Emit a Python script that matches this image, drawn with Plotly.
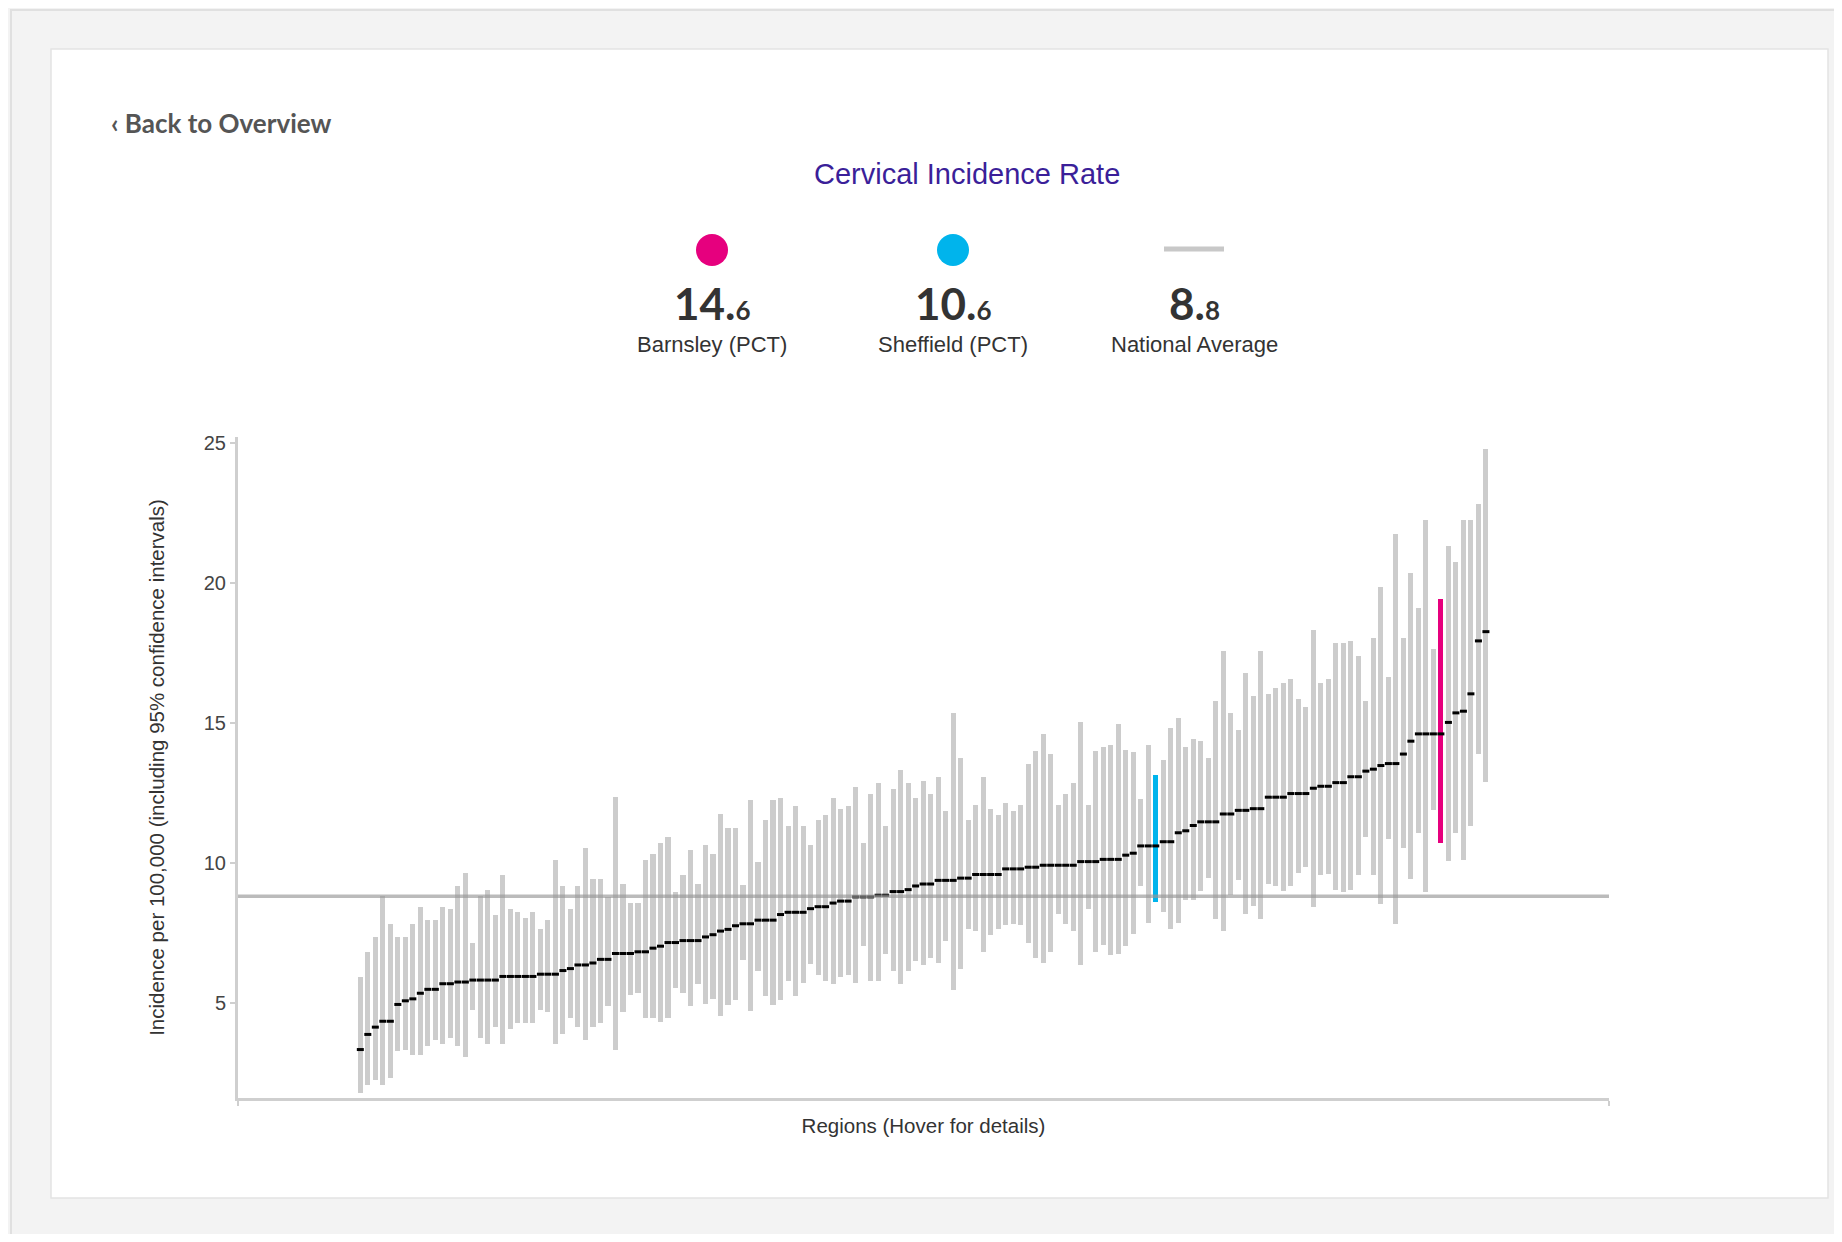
import plotly.graph_objects as go

# Cervical incidence per 100,000 by PCT, sorted, with 95% confidence intervals
rate = [
    3.33, 3.87, 4.13, 4.34, 4.34, 4.94, 5.07, 5.14, 5.34, 5.48,
    5.48, 5.68, 5.68, 5.74, 5.74, 5.81, 5.81, 5.81, 5.81, 5.94,
    5.94, 5.94, 5.94, 5.94, 6.02, 6.02, 6.02, 6.15, 6.22, 6.35,
    6.35, 6.42, 6.55, 6.55, 6.76, 6.76, 6.76, 6.82, 6.82, 6.95,
    7.02, 7.15, 7.15, 7.22, 7.22, 7.22, 7.35, 7.43, 7.56, 7.62,
    7.75, 7.82, 7.82, 7.95, 7.95, 7.95, 8.15, 8.23, 8.23, 8.23,
    8.36, 8.43, 8.43, 8.56, 8.63, 8.63, 8.78, 8.78, 8.78, 8.84,
    8.84, 8.97, 8.97, 9.04, 9.17, 9.24, 9.24, 9.37, 9.37, 9.37,
    9.45, 9.45, 9.58, 9.58, 9.58, 9.58, 9.78, 9.78, 9.78, 9.84,
    9.84, 9.91, 9.91, 9.91, 9.91, 9.91, 10.04, 10.04, 10.04, 10.12,
    10.12, 10.12, 10.27, 10.34, 10.6, 10.6, 10.6, 10.75, 10.75, 11.07,
    11.14, 11.33, 11.46, 11.46, 11.46, 11.74, 11.74, 11.87, 11.87, 11.93,
    11.93, 12.34, 12.34, 12.34, 12.47, 12.47, 12.47, 12.66, 12.73, 12.73,
    12.86, 12.86, 13.07, 13.07, 13.27, 13.34, 13.47, 13.54, 13.54, 13.88,
    14.34, 14.6, 14.6, 14.6, 14.6, 15.01, 15.35, 15.41, 16.03, 17.92,
    18.25,
]
lower = [
    1.77, 2.05, 2.25, 2.05, 2.32, 3.27, 3.33, 3.13, 3.13, 3.46,
    3.66, 3.53, 3.73, 3.46, 3.07, 4.74, 3.73, 3.53, 4.14, 3.53,
    4.07, 4.27, 4.27, 4.27, 4.74, 4.67, 3.53, 3.87, 4.46, 4.14,
    3.66, 4.14, 4.27, 4.87, 3.33, 4.67, 5.28, 5.34, 4.46, 4.46,
    4.33, 4.46, 5.54, 5.34, 4.87, 5.68, 4.94, 5.14, 4.53, 4.91,
    5.11, 6.53, 4.71, 6.12, 5.24, 4.91, 5.11, 5.79, 5.24, 5.72,
    6.4, 5.99, 5.79, 5.66, 5.92, 5.99, 5.72, 7.01, 5.79, 5.79,
    6.73, 6.12, 5.66, 6.12, 6.5, 6.34, 6.61, 6.41, 7.22, 5.47,
    6.21, 7.63, 7.56, 6.82, 7.43, 7.63, 7.76, 7.82, 7.76, 7.15,
    6.61, 6.41, 6.82, 8.17, 7.82, 7.56, 6.34, 8.36, 6.82, 7.05,
    6.7, 6.75, 7.03, 7.44, 9.18, 7.84, 8.6, 8.25, 7.64, 7.84,
    8.66, 8.66, 8.98, 9.46, 7.99, 7.57, 8.84, 9.4, 8.18, 8.44,
    7.99, 9.25, 9.18, 8.98, 9.18, 9.63, 9.85, 8.42, 9.55, 9.61,
    9.02, 8.96, 9.02, 9.55, 10.93, 9.55, 8.54, 10.84, 7.82, 10.51,
    9.43, 11.05, 8.96, 11.88, 10.71, 10.05, 11.05, 10.11, 11.32, 13.89,
    12.87,
]
upper = [
    5.93, 6.8, 7.34, 8.82, 7.82, 7.34, 7.34, 7.82, 8.42, 7.95,
    7.95, 8.42, 8.36, 9.16, 9.64, 7.15, 8.82, 9.04, 8.15, 9.56,
    8.36, 8.23, 8.02, 8.23, 7.63, 7.95, 10.11, 9.16, 8.36, 9.16,
    10.51, 9.43, 9.43, 8.76, 12.34, 9.23, 8.56, 8.56, 10.11, 10.31,
    10.71, 10.91, 8.97, 9.56, 10.45, 9.23, 10.65, 10.31, 11.73, 11.24,
    11.23, 9.22, 12.24, 10.03, 11.52, 12.24, 12.31, 11.3, 12.04, 11.3,
    10.63, 11.52, 11.7, 12.31, 11.91, 12.04, 12.72, 10.7, 12.44, 12.85,
    11.3, 12.65, 13.32, 12.85, 12.32, 12.92, 12.46, 13.05, 11.85, 15.35,
    13.73, 11.52, 12.05, 13.05, 11.92, 11.72, 12.12, 11.85, 12.05, 13.53,
    14.0, 14.61, 13.87, 12.05, 12.46, 12.86, 15.01, 12.05, 14.0, 14.13,
    14.21, 14.95, 14.03, 13.94, 12.26, 14.21, 13.12, 13.67, 14.82, 15.16,
    14.14, 14.42, 14.36, 13.75, 15.77, 17.57, 15.36, 14.75, 16.77, 15.97,
    17.57, 16.03, 16.23, 16.43, 16.57, 15.83, 15.56, 18.31, 16.42, 16.57,
    17.86, 17.86, 17.92, 17.38, 15.77, 18.04, 19.86, 16.64, 21.74, 18.04,
    20.33, 19.11, 22.22, 17.64, 19.43, 21.32, 20.72, 22.22, 22.22, 22.81,
    24.76,
]
regions = list(range(1, len(rate) + 1))

national_avg = 8.8
highlights = {  # region position -> (label, value, colour)
    145: ("Barnsley (PCT)", 14.6, "#e6007e"),
    107: ("Sheffield (PCT)", 10.6, "#00b4ec"),
}

# page has an 8px body margin, so the figure is a bit smaller than the window
OX = 8
W, H = 1826, 1226
L, R, T, B = 230, 225, 429, 136
pw, ph = W - L - R, H - T - B


def px(x):  # screen pixel -> paper
    return (x - OX - L) / pw


def py(y):
    return (H - B - (y - OX)) / ph


fig = go.Figure()

# confidence interval bars
fig.add_trace(go.Bar(
    x=regions, y=[u - l for u, l in zip(upper, lower)], base=lower,
    width=0.68, marker=dict(color="#cccccc", line=dict(width=0)),
    hoverinfo="skip", showlegend=False,
))
# point estimates
fig.add_trace(go.Scatter(
    x=regions, y=rate, mode="markers",
    marker=dict(symbol="line-ew", size=5, line=dict(width=3, color="#000000")),
    showlegend=False,
))
# highlighted regions on top
for pos, (name, val, col) in highlights.items():
    i = pos - 1
    fig.add_trace(go.Bar(
        x=[pos], y=[upper[i] - lower[i]], base=[lower[i]], width=0.68,
        marker=dict(color=col, line=dict(width=0)), name=name, showlegend=False,
    ))

x_lo, x_hi = -15.3, 167.4
shapes = [
    # outer frame
    dict(type="rect", xref="paper", yref="paper", x0=px(11), x1=px(1850), y0=py(10), y1=py(1238),
         fillcolor="rgba(0,0,0,0)", line=dict(color="#e0e0e0", width=2), layer="below"),
    # card
    dict(type="rect", xref="paper", yref="paper", x0=px(51), x1=px(1828), y0=py(49), y1=py(1198),
         fillcolor="#ffffff", line=dict(color="#e4e4e4", width=1.5), layer="below"),
    # national average
    dict(type="line", xref="x", yref="y", x0=x_lo, x1=x_hi, y0=national_avg, y1=national_avg,
         line=dict(color="rgba(150,150,150,0.65)", width=3.5), layer="above"),
    # legend glyphs
    dict(type="circle", xref="paper", yref="paper", x0=px(696), x1=px(728), y0=py(234), y1=py(266),
         fillcolor="#e6007e", line=dict(width=0)),
    dict(type="circle", xref="paper", yref="paper", x0=px(937), x1=px(969), y0=py(234), y1=py(266),
         fillcolor="#00b4ec", line=dict(width=0)),
    dict(type="line", xref="paper", yref="paper", x0=px(1164), x1=px(1224), y0=py(249), y1=py(249),
         line=dict(color="#c8c8c8", width=5)),
]

annotations = [
    dict(text="<b>‹ Back to Overview</b>", x=px(109), y=py(123), xanchor="left", yanchor="middle",
         font=dict(family="Lato", size=26, color="#555555")),
    dict(text="Cervical Incidence Rate", x=px(967), y=py(174), xanchor="center", yanchor="middle",
         font=dict(family="Liberation Sans, Arial", size=29, color="#3b1f99")),
]
legend_items = [
    ("Barnsley (PCT)", 14.6, 712),
    ("Sheffield (PCT)", 10.6, 953),
    ("National Average", national_avg, 1194),
]
for label, val, cx in legend_items:
    whole, frac = f"{val:.1f}".split(".")
    annotations.append(dict(
        text=f"<b>{whole}.<span style='font-size:26px'>{frac}</span></b>",
        x=px(cx), y=py(303), xanchor="center", yanchor="middle",
        font=dict(family="Lato", size=44, color="#333333")))
    annotations.append(dict(
        text=label, x=px(cx), y=py(344), xanchor="center", yanchor="middle",
        font=dict(family="Liberation Sans, Arial", size=22, color="#333333")))
for a in annotations:
    a.update(xref="paper", yref="paper", showarrow=False)

fig.update_layout(
    width=W, height=H,
    margin=dict(l=L, r=R, t=T, b=B),
    paper_bgcolor="#f3f3f3", plot_bgcolor="rgba(0,0,0,0)",
    barmode="overlay", bargap=0,
    font=dict(family="Liberation Sans, Arial", color="#444444"),
    shapes=shapes, annotations=annotations,
    xaxis=dict(
        range=[x_lo, x_hi], showgrid=False, zeroline=False,
        showline=True, linecolor="#cfcfcf", linewidth=3,
        tickvals=[x_lo, x_hi], ticks="outside", ticklen=5, tickwidth=2, tickcolor="#cfcfcf",
        showticklabels=False,
        title=dict(text="Regions (Hover for details)", standoff=14,
                   font=dict(size=20.5, color="#333333")),
    ),
    yaxis=dict(
        range=[1.6, 25.2], showgrid=False, zeroline=False,
        showline=True, linecolor="#cfcfcf", linewidth=3,
        tickvals=[5, 10, 15, 20, 25], ticks="outside", ticklen=5, tickwidth=2, tickcolor="#cfcfcf",
        tickfont=dict(size=20, color="#444444"),
        title=dict(text="Incidence per 100,000 (including 95% confidence intervals)", standoff=34,
                   font=dict(size=20.5, color="#333333")),
    ),
)

fig.write_html("out.html")
